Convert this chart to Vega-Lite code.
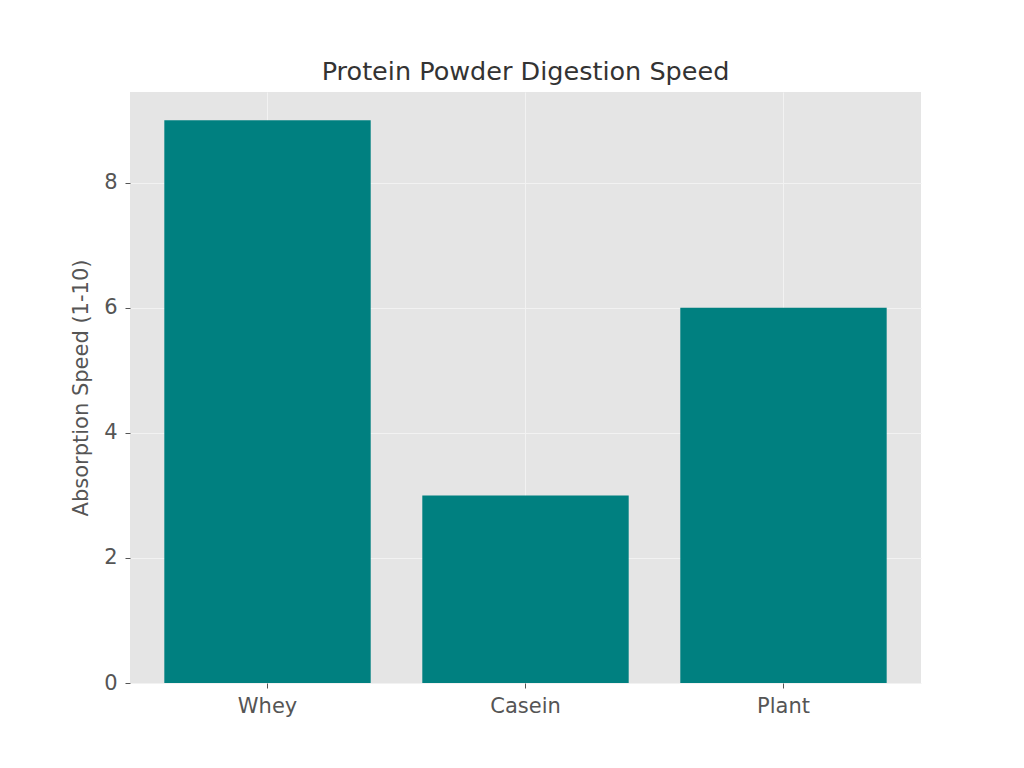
{
  "$schema": "https://vega.github.io/schema/vega-lite/v6.json",
  "width": 791,
  "height": 591,
  "autosize": {"type": "none"},
  "padding": {"left": 130, "top": 92, "right": 103, "bottom": 85},
  "background": "white",
  "title": {
    "text": "Protein Powder Digestion Speed",
    "font": "DejaVu Sans",
    "fontSize": 25.5,
    "fontWeight": "normal",
    "color": "#333333",
    "offset": 7
  },
  "data": {
    "values": [
      {"powder": "Whey", "speed": 9},
      {"powder": "Casein", "speed": 3},
      {"powder": "Plant", "speed": 6}
    ]
  },
  "mark": {"type": "bar", "color": "#008080"},
  "encoding": {
    "x": {
      "field": "powder",
      "type": "nominal",
      "sort": null,
      "scale": {"paddingInner": 0.2, "paddingOuter": 0.133},
      "axis": {
        "title": null,
        "labelAngle": 0,
        "bandPosition": 0.5,
        "grid": true,
        "gridColor": "#F2F2F2",
        "gridWidth": 1,
        "domain": false,
        "tickColor": "#555555",
        "tickSize": 5,
        "labelFont": "DejaVu Sans",
        "labelFontSize": 21,
        "labelColor": "#555555",
        "labelPadding": 7
      }
    },
    "y": {
      "field": "speed",
      "type": "quantitative",
      "scale": {"domain": [0, 9.45], "nice": false, "zero": true},
      "axis": {
        "title": "Absorption Speed (1-10)",
        "titleFont": "DejaVu Sans",
        "titleFontSize": 21,
        "titleFontWeight": "normal",
        "titleColor": "#555555",
        "titlePadding": 12,
        "values": [0, 2, 4, 6, 8],
        "grid": true,
        "gridColor": "#F2F2F2",
        "gridWidth": 1,
        "domain": false,
        "tickColor": "#555555",
        "tickSize": 5,
        "labelFont": "DejaVu Sans",
        "labelFontSize": 21,
        "labelColor": "#555555",
        "labelPadding": 8
      }
    }
  },
  "config": {
    "view": {"fill": "#E5E5E5", "stroke": null}
  }
}
